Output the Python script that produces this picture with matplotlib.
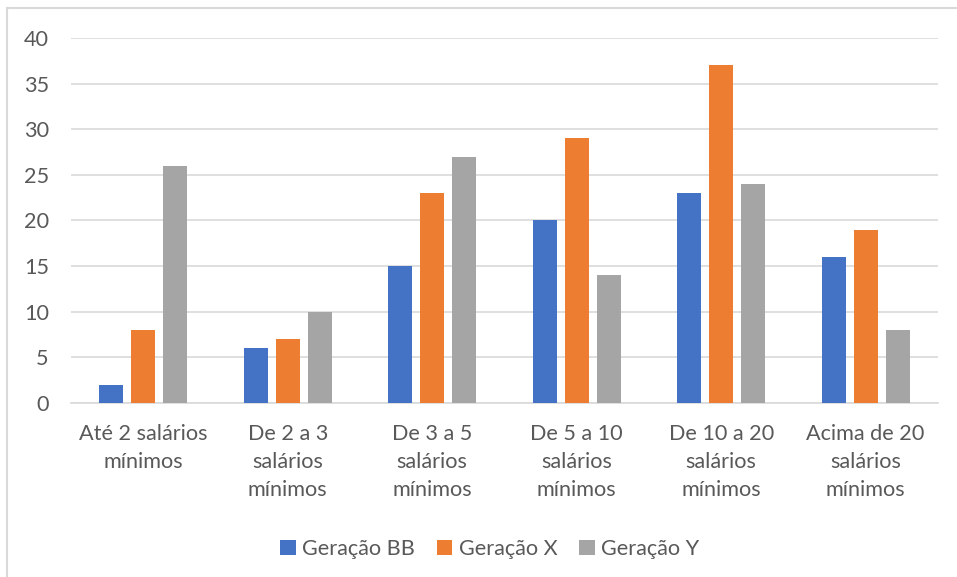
import numpy as np
import matplotlib.pyplot as plt
from matplotlib.patches import Rectangle

# faixas de renda e valores por geracao
categorias = ["Até 2 salários\nmínimos", "De 2 a 3\nsalários\nmínimos",
              "De 3 a 5\nsalários\nmínimos", "De 5 a 10\nsalários\nmínimos",
              "De 10 a 20\nsalários\nmínimos", "Acima de 20\nsalários\nmínimos"]
geracao_bb = [2, 6, 15, 20, 23, 16]
geracao_x = [8, 7, 23, 29, 37, 19]
geracao_y = [26, 10, 27, 14, 24, 8]
series_nomes = ["Geração BB", "Geração X", "Geração Y"]
y_ticks = [0, 5, 10, 15, 20, 25, 30, 35, 40]

cores = ["#4472C4", "#ED7D31", "#A5A5A5"]
txt_cor = "#595959"

plt.rcParams['font.family'] = ['Lato', 'DejaVu Sans']

fig = plt.figure(figsize=(9.57, 5.77), dpi=100)
ax = fig.add_axes([0.0742, 0.3016, 0.9058, 0.6326])

x = np.arange(len(categorias))
larg = 0.166
passo = 0.221
for i, (vals, nome) in enumerate(zip([geracao_bb, geracao_x, geracao_y], series_nomes)):
    ax.bar(x + (i - 1) * passo, vals, width=larg, color=cores[i], label=nome, zorder=3)

ax.set_xlim(-0.5, len(categorias) - 0.5)
ax.set_ylim(0, 40)
ax.set_yticks(y_ticks)
ax.grid(axis='y', color='#D9D9D9', linewidth=1.2, zorder=0)
for s in ['top', 'right', 'left']:
    ax.spines[s].set_visible(False)
ax.spines['bottom'].set_color('#D9D9D9')
ax.spines['bottom'].set_linewidth(1.2)
ax.tick_params(axis='both', length=0, labelsize=15.6, colors=txt_cor)
ax.tick_params(axis='y', pad=16)
ax.set_xticks(x)
ax.set_xticklabels(categorias, linespacing=1.5)
ax.tick_params(axis='x', pad=15)

leg = ax.legend(loc='upper center', bbox_to_anchor=(0.483, -0.32), ncol=3, frameon=False,
                fontsize=15.6, handlelength=0.72, handleheight=0.72, handletextpad=0.3,
                columnspacing=1.0)
for t in leg.get_texts():
    t.set_color(txt_cor)

# borda do grafico (so esquerda e topo aparecem)
fig.add_artist(Rectangle((7 / 957, -0.1), 1.2, 1.1 - 8 / 577, transform=fig.transFigure,
                         fill=False, edgecolor='#D9D9D9', linewidth=1.5))

fig.savefig("out.png", dpi=100)
